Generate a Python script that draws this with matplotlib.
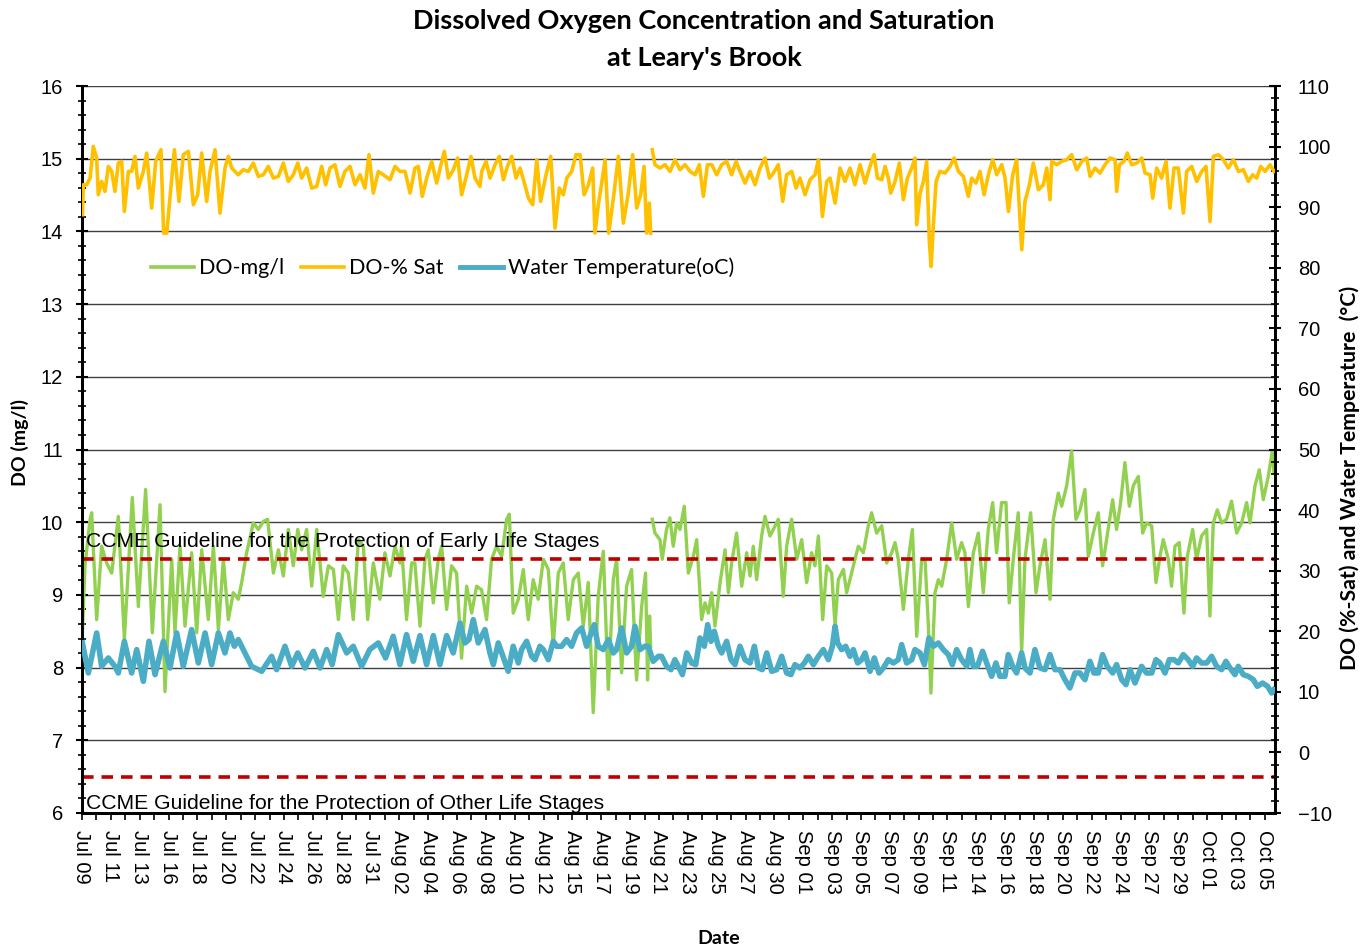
import matplotlib
matplotlib.use('Agg')
import matplotlib.pyplot as plt
from matplotlib.ticker import MultipleLocator, FixedLocator
from matplotlib.lines import Line2D

nan = float('nan')

# ---------------- data (x = days from the Jul 09 axis start) ----------------
do_mg_day = [0.03, 0.22, 0.60, 0.72, 1.09, 1.46, 1.83, 2.21, 2.70, 3.15, 3.74, 4.19, 4.73, 5.23, 5.80, 6.17,
             6.67, 6.91, 7.29, 7.66, 8.15, 8.53, 8.90, 9.39, 9.77, 10.14, 10.51, 10.88, 11.25, 11.62, 11.87,
             12.24, 12.74, 13.11, 13.48, 13.80, 14.23, 14.60, 14.97, 15.34, 15.71, 16.04, 16.33, 16.70, 17.08,
             17.45, 17.94, 18.32, 18.69, 19.06, 19.43, 19.80, 20.17, 20.55, 20.92, 21.24, 21.66,
             22.15, 22.52, 22.90, 23.27, 23.64, 23.76, 24.13, 24.51, 24.75, 25.13, 25.50, 25.75, 26.12, 26.49,
             26.74, 27.11, 27.48, 27.85, 28.22, 28.60, 28.97, 29.34, 29.71, 30.08, 30.45, 30.83, 31.20, 31.57,
             31.77, 32.06, 32.44, 32.81, 33.18, 33.55, 33.92, 34.30, 34.67, 35.04, 35.41, 35.78, 36.15, 36.53,
             36.90, 37.27, 37.64, 38.01, 38.38, 38.76, 39.13, 39.50, 39.75, 40.12, 40.49, 40.86, 41.23, 41.61,
             41.90, 42.05, 42.20, 42.28, 42.34, 42.40, 42.60, 42.97, 43.14, 43.46, 43.71, 43.96, 44.21, 44.46,
             44.78, 45.08, 45.45, 45.70, 46.07, 46.32, 46.57, 46.82, 47.06, 47.44, 47.81, 48.06, 48.30, 48.67,
             49.05, 49.42, 49.67, 49.91, 50.16, 50.53, 50.78, 51.15, 51.40, 51.77, 52.14, 52.39, 52.76, 53.14,
             53.51, 53.88, 54.25, 54.50, 54.75, 55.07, 55.37, 55.74, 55.99, 56.23, 56.61, 56.85, 57.22, 57.47,
             57.72, 58.09, 58.46, 58.71, 59.08, 59.46, 59.83, 60.20, 60.45, 60.69, 61.07, 61.44, 61.74, 62.06,
             62.43, 62.68, 62.93, 63.12, 63.42, 63.67, 63.92, 64.29, 64.66, 65.03, 65.40, 65.65, 65.90, 66.27,
             66.64, 67.01, 67.38, 67.71, 68.00, 68.37, 68.70, 68.94, 69.24, 69.61, 69.86, 70.11, 70.53, 70.93,
             71.22, 71.60, 71.97, 72.22, 72.59, 72.84, 73.21, 73.58, 73.90, 74.20, 74.57, 74.82, 75.19, 75.56,
             75.88, 76.18, 76.63, 76.92, 77.22, 77.54, 77.87, 78.16, 78.54, 78.86, 79.15, 79.53, 79.85, 80.15,
             80.39, 80.77, 81.01, 81.26, 81.58, 81.93, 82.18, 82.58, 82.87, 83.24, 83.62, 83.86, 84.11, 84.41,
             84.73, 85.10, 85.47, 85.85, 86.22, 86.59, 86.84, 87.21, 87.53, 87.83, 88.20, 88.50, 88.62]
do_mg_val = [8.48, 9.40, 10.04, 10.13, 8.66, 9.67, 9.44, 9.30, 10.08, 8.39, 10.34, 8.84, 10.45, 8.48, 10.24, 7.67,
             9.49, 8.48, 9.67, 8.57, 9.58, 8.48, 9.62, 8.66, 9.67, 8.52, 9.49, 8.66, 9.03, 8.94, 9.17,
             9.58, 9.99, 9.90, 10.01, 10.04, 9.30, 9.62, 9.26, 9.90, 9.40, 9.90, 9.62, 9.90, 9.12,
             9.90, 8.98, 9.40, 9.35, 8.66, 9.40, 9.30, 8.66, 9.76, 9.67, 8.66, 9.44,
             8.94, 9.58, 9.26, 9.67, 9.44, 9.67, 8.66, 9.44, 9.44, 8.57, 9.49, 9.62, 8.89, 9.49,
             9.67, 8.80, 9.40, 9.30, 8.13, 9.12, 8.75, 9.12, 9.07, 8.66, 9.49, 9.67, 9.53, 10.04,
             10.11, 8.75, 8.94, 9.35, 8.66, 9.21, 8.94, 9.49, 9.35, 8.29, 9.30, 9.44, 8.66, 9.21,
             9.30, 8.57, 9.17, 7.38, 8.98, 9.60, 7.70, 9.21, 9.49, 7.93, 9.12, 9.35, 7.83, 8.84,
             9.30, 7.83, 8.71, 8.29, nan, 10.04, 9.85, 9.76, 9.49, 9.90, 10.06, 9.67, 9.99, 9.90,
             10.22, 9.30, 9.53, 9.76, 8.66, 8.89, 8.75, 9.03, 8.57, 9.17, 9.62, 9.03, 9.44, 9.85,
             9.12, 9.58, 9.26, 9.67, 9.21, 9.81, 10.08, 9.81, 9.90, 10.04, 8.98, 9.67, 10.04, 9.49,
             9.76, 9.17, 9.58, 9.40, 9.81, 8.66, 9.40, 9.30, 8.57, 9.21, 9.35, 9.03, 9.30, 9.49,
             9.67, 9.58, 9.95, 10.13, 9.85, 9.95, 9.44, 9.58, 9.72, 9.49, 8.80, 9.49, 9.90, 8.43,
             9.49, 9.49, 8.57, 7.65, 9.03, 9.21, 9.12, 9.49, 9.99, 9.49, 9.72, 9.58, 8.84, 9.58,
             9.85, 9.03, 9.90, 10.27, 9.58, 10.27, 10.27, 8.89, 9.49, 10.13, 8.20, 9.49, 10.13, 9.03,
             9.40, 9.76, 8.94, 10.04, 10.40, 10.22, 10.50, 10.98, 10.04, 10.17, 10.45, 9.53, 9.85, 10.13,
             9.40, 9.76, 10.31, 9.90, 10.27, 10.82, 10.22, 10.50, 10.63, 9.85, 9.99, 9.95, 9.17, 9.53,
             9.76, 9.49, 9.12, 9.67, 9.72, 8.75, 9.53, 9.90, 9.49, 9.81, 9.90, 8.71, 9.99, 10.17,
             9.99, 10.04, 10.29, 9.85, 9.99, 10.27, 9.99, 10.50, 10.72, 10.31, 10.63, 10.98, 10.68]

do_sat_day = [0.03, 0.10, 0.35, 0.60, 0.84, 1.09, 1.21, 1.46, 1.71, 1.96, 2.21, 2.45, 2.70, 2.95, 3.15, 3.45,
              3.69, 3.94, 4.19, 4.56, 4.81, 5.18, 5.48, 5.87, 6.07, 6.30, 6.54, 6.87, 7.21, 7.53, 7.91, 8.28,
              8.60, 8.90, 9.27, 9.52, 9.89, 10.26, 10.63, 10.88, 11.13, 11.62, 11.99, 12.37, 12.74, 13.11,
              13.48, 13.85, 14.23, 14.60, 14.97, 15.34, 15.71, 16.04, 16.33, 16.70, 17.08, 17.45, 17.82, 18.12,
              18.44, 18.81, 19.18, 19.55, 19.93, 20.30, 20.67, 21.04, 21.34, 21.66, 22.03, 22.40, 22.90, 23.27,
              23.64, 24.02, 24.39, 24.76, 25.01, 25.30, 25.63, 26.00, 26.37, 26.69, 26.94, 27.24, 27.61, 27.93,
              28.23, 28.60, 28.92, 29.22, 29.59, 29.72, 30.04, 30.34, 30.71, 31.03, 31.33, 31.63, 31.95, 32.27,
              32.57, 32.86, 33.19, 33.51, 33.81, 34.10, 34.50, 34.85, 35.17, 35.49, 35.79, 36.04, 36.41, 36.73,
              37.03, 37.33, 37.65, 37.97, 38.14, 38.39, 38.64, 38.89, 39.16, 39.51, 39.88, 40.25, 40.62, 40.94,
              41.24, 41.54, 41.79, 41.98, 42.18, 42.28, 42.34, 42.40, 42.60, 42.98, 43.35, 43.72, 44.09, 44.46,
              44.84, 45.21, 45.58, 45.90, 46.20, 46.50, 46.82, 47.19, 47.56, 47.93, 48.30, 48.63, 48.92, 49.30,
              49.67, 50.04, 50.41, 50.78, 51.11, 51.40, 51.77, 52.10, 52.39, 52.77, 53.09, 53.38, 53.76, 54.13,
              54.50, 54.75, 55.05, 55.37, 55.62, 55.99, 56.36, 56.73, 57.10, 57.47, 57.85, 58.22, 58.59, 58.89,
              59.14, 59.46, 59.71, 59.95, 60.13, 60.45, 60.77, 61.07, 61.37, 61.69, 61.94, 62.06, 62.31, 62.56,
              62.80, 63.00, 63.13, 63.30, 63.50, 63.79, 64.17, 64.54, 64.84, 65.16, 65.53, 65.90, 66.15, 66.47,
              66.77, 67.07, 67.39, 67.71, 68.01, 68.38, 68.63, 68.88, 69.20, 69.49, 69.87, 70.11, 70.44, 70.73,
              71.11, 71.48, 71.73, 71.97, 72.10, 72.47, 72.84, 73.21, 73.58, 73.96, 74.33, 74.70, 74.95, 75.32,
              75.69, 76.06, 76.43, 76.81, 76.93, 77.13, 77.47, 77.72, 78.04, 78.42, 78.79, 79.04, 79.41, 79.61,
              79.90, 80.27, 80.60, 80.89, 81.19, 81.51, 81.89, 82.13, 82.51, 82.88, 83.25, 83.57, 83.87, 84.12,
              84.49, 84.86, 85.23, 85.60, 85.98, 86.35, 86.72, 87.04, 87.34, 87.64, 87.96, 88.33, 88.63]
do_sat_val = [88.75, 93.70, 93.70, 94.80, 100.03, 98.11, 92.05, 94.25, 92.60, 96.73, 95.90, 92.60, 97.28, 97.56, 89.30, 95.90,
              95.90, 98.38, 93.15, 95.90, 98.93, 89.85, 97.56, 99.48, 85.72, 85.72, 91.50, 99.48, 90.95, 98.66, 99.21, 90.40,
              92.05, 98.93, 90.95, 95.90, 99.48, 89.02, 96.46, 98.38, 96.46, 95.35, 96.18, 95.90, 97.28, 95.08,
              95.35, 96.73, 94.80, 95.08, 97.28, 94.25, 95.35, 97.28, 94.80, 96.46, 93.15, 93.43, 96.73, 93.70,
              96.46, 97.01, 93.43, 95.90, 96.73, 93.70, 95.35, 93.15, 98.66, 92.33, 95.90, 95.35, 94.53, 96.73,
              95.90, 95.90, 92.33, 96.46, 96.73, 91.78, 94.80, 97.56, 93.98, 97.01, 99.21, 94.80, 96.18, 98.11,
              92.05, 95.35, 98.38, 94.80, 93.43, 95.90, 97.56, 94.80, 97.01, 98.38, 94.53, 96.73, 98.38, 94.80,
              96.46, 94.25, 91.50, 90.40, 97.83, 90.95, 95.35, 98.38, 86.55, 93.15, 92.05, 94.80, 95.90, 98.66,
              98.66, 92.05, 93.70, 96.46, 85.72, 90.40, 93.98, 97.83, 85.72, 91.50, 98.38, 87.37, 92.33, 98.66,
              89.85, 92.05, 96.73, 85.72, 90.67, 85.72, nan, 99.48, 97.01, 96.46, 97.01, 95.90, 97.83, 96.18,
              97.01, 95.90, 95.35, 97.01, 91.78, 97.01, 97.01, 95.35, 97.01, 97.56, 95.35, 97.56, 95.90, 93.98,
              95.90, 93.70, 96.46, 98.11, 94.80, 95.62, 97.01, 90.95, 95.35, 95.90, 93.15, 94.80, 92.05, 94.53,
              95.35, 97.83, 88.47, 94.25, 94.80, 90.67, 96.46, 94.25, 96.46, 93.70, 97.01, 93.98, 96.73, 98.66,
              94.80, 94.53, 96.73, 94.80, 92.33, 94.25, 97.28, 91.23, 94.80, 96.46, 98.11, 87.10, 92.33, 94.25,
              97.56, 84.34, 80.21, 87.10, 94.25, 95.90, 95.63, 96.73, 98.11, 95.90, 95.08, 91.78, 94.80, 93.98,
              95.90, 92.05, 95.35, 97.83, 95.35, 97.01, 94.80, 89.30, 95.35, 97.83, 82.97, 90.95, 93.70, 97.28,
              92.88, 93.70, 96.46, 91.23, 97.56, 97.01, 97.56, 97.83, 98.66, 96.18, 97.56, 98.11, 95.08, 96.46,
              95.63, 97.01, 98.11, 97.83, 92.60, 97.01, 97.56, 98.93, 97.01, 97.28, 98.11, 95.63, 95.35, 91.50,
              96.46, 94.80, 97.56, 89.85, 96.46, 96.46, 89.02, 95.90, 96.73, 94.25, 95.90, 96.73, 87.65, 98.38,
              98.66, 97.83, 96.46, 97.83, 95.90, 96.18, 94.25, 95.35, 94.80, 96.73, 95.90, 97.01, 95.90]

temp_day = [0.03, 0.47, 1.09, 1.46, 1.96, 2.45, 2.70, 3.15, 3.69, 4.07, 4.56, 4.98, 5.43, 6.05, 6.54, 7.04,
            7.53, 8.15, 8.65, 9.15, 9.64, 10.14, 10.63, 11.00, 11.33, 11.62, 11.99, 12.61, 13.36, 14.10, 14.47,
            15.09, 15.59, 16.04, 16.58, 17.20, 17.70, 18.19, 18.60, 19.06, 19.68, 20.17, 20.79, 21.40, 22.03,
            22.57, 23.14, 23.64, 24.13, 24.63, 25.13, 25.62, 26.12, 26.61, 27.11, 27.60, 28.10, 28.47, 28.77,
            29.09, 29.46, 29.96, 30.33, 30.58, 30.95, 31.69, 32.06, 32.44, 32.68, 33.06, 33.43, 33.68, 34.05,
            34.30, 34.67, 35.04, 35.29, 35.66, 36.03, 36.40, 36.77, 37.15, 37.52, 37.77, 38.09, 38.38, 38.76,
            39.13, 39.50, 39.75, 40.12, 40.49, 40.86, 41.11, 41.48, 41.85, 42.10, 42.47, 42.85, 43.09, 43.46,
            43.79, 44.08, 44.34, 44.64, 44.96, 45.33, 45.63, 45.95, 46.27, 46.52, 46.77, 47.01, 47.31, 47.56,
            47.93, 48.25, 48.55, 48.92, 49.29, 49.67, 49.99, 50.29, 50.58, 50.91, 51.28, 51.65, 52.02, 52.39,
            52.71, 53.01, 53.38, 53.71, 54.00, 54.38, 54.75, 55.12, 55.49, 55.79, 55.99, 56.18, 56.48, 56.78,
            57.10, 57.35, 57.67, 57.97, 58.22, 58.59, 58.91, 59.26, 59.58, 59.95, 60.32, 60.69, 60.94, 61.31,
            61.69, 61.93, 62.31, 62.63, 62.97, 63.30, 63.67, 64.04, 64.41, 64.71, 65.03, 65.40, 65.78, 66.02,
            66.27, 66.57, 66.96, 67.26, 67.63, 67.95, 68.25, 68.62, 68.87, 69.19, 69.49, 69.86, 70.11, 70.48,
            70.85, 71.22, 71.60, 71.97, 72.34, 72.71, 73.08, 73.45, 73.83, 74.20, 74.57, 74.94, 75.24, 75.56,
            75.88, 76.23, 76.63, 76.92, 77.30, 77.62, 77.92, 78.29, 78.78, 79.15, 79.53, 79.85, 80.15, 80.52,
            80.84, 81.19, 81.51, 81.88, 82.25, 82.58, 82.87, 83.24, 83.62, 83.99, 84.36, 84.73, 85.05, 85.35,
            85.72, 85.97, 86.34, 86.71, 87.09, 87.38, 87.78, 88.15, 88.45, 88.62]
temp_val = [18.07, 13.11, 19.72, 14.21, 15.59, 14.21, 13.11, 18.34, 13.11, 16.97, 11.73, 18.34, 12.84, 18.34, 13.94, 19.72,
            14.21, 20.27, 14.76, 19.72, 14.49, 19.72, 16.42, 19.72, 17.52, 18.62, 16.97, 14.21, 13.39, 15.86, 13.66,
            17.52, 14.21, 16.42, 13.94, 16.69, 13.94, 16.97, 14.50, 19.44, 16.42, 17.52, 14.21, 17.00, 18.07,
            15.59, 19.17, 14.49, 19.44, 15.04, 19.28, 14.49, 19.28, 14.49, 19.28, 16.42, 21.37, 18.07, 18.62,
            21.92, 18.07, 20.27, 16.42, 14.49, 18.07, 13.39, 17.52, 14.76, 16.97, 18.34, 15.86, 15.31, 17.52,
            16.97, 15.31, 18.34, 17.52, 17.52, 18.62, 17.52, 19.72, 20.54, 17.52, 19.17, 21.09, 17.52, 16.97,
            18.62, 16.42, 16.97, 20.54, 16.42, 17.52, 20.82, 16.97, 17.52, 17.52, 15.04, 15.86, 15.86, 14.21,
            13.66, 15.31, 14.21, 12.84, 16.42, 14.76, 14.49, 18.89, 17.52, 21.09, 18.34, 20.00, 17.52, 16.42,
            18.34, 15.31, 14.49, 17.52, 15.31, 14.76, 17.52, 13.94, 13.66, 16.42, 13.39, 13.66, 15.86, 13.11,
            12.84, 14.49, 13.94, 14.76, 15.86, 14.49, 15.86, 16.97, 15.31, 17.52, 20.82, 18.07, 16.97, 17.52,
            15.86, 16.97, 14.76, 15.31, 16.42, 13.39, 15.59, 13.11, 13.94, 15.31, 14.76, 15.31, 17.79, 14.76,
            15.31, 16.97, 16.42, 14.49, 18.89, 17.52, 18.07, 16.97, 16.15, 14.49, 16.97, 15.31, 14.21, 16.97,
            14.21, 14.21, 16.69, 14.76, 12.56, 14.76, 12.56, 12.56, 16.14, 14.21, 13.11, 16.42, 13.94, 13.11,
            16.97, 13.94, 13.66, 16.14, 13.66, 13.66, 12.01, 10.64, 13.11, 13.11, 12.01, 15.04, 13.11, 13.11,
            16.14, 14.21, 13.11, 14.49, 12.01, 11.19, 13.66, 11.46, 14.21, 13.11, 13.11, 15.31, 14.76, 13.11,
            15.31, 15.31, 14.76, 16.14, 15.31, 14.21, 15.59, 14.76, 14.76, 15.86, 14.21, 13.66, 15.04, 13.94,
            12.84, 14.21, 12.84, 12.56, 12.01, 10.91, 11.46, 10.91, 9.81, 10.36]

date_labels = ['Jul 09', 'Jul 11', 'Jul 13', 'Jul 16', 'Jul 18', 'Jul 20', 'Jul 22', 'Jul 24', 'Jul 26',
               'Jul 28', 'Jul 31', 'Aug 02', 'Aug 04', 'Aug 06', 'Aug 08', 'Aug 10', 'Aug 12', 'Aug 15',
               'Aug 17', 'Aug 19', 'Aug 21', 'Aug 23', 'Aug 25', 'Aug 27', 'Aug 30', 'Sep 01', 'Sep 03',
               'Sep 05', 'Sep 07', 'Sep 09', 'Sep 11', 'Sep 14', 'Sep 16', 'Sep 18', 'Sep 20', 'Sep 22',
               'Sep 24', 'Sep 27', 'Sep 29', 'Oct 01', 'Oct 03', 'Oct 05']
guideline_early = 9.5
guideline_other = 6.5

# ---------------- styling ----------------
GREEN = '#92D050'
YELLOW = '#FFC000'
BLUE = '#4BACC6'
RED = '#C00000'
TICK_FONT = 'Liberation Sans'
LABEL_FONT = 'Lato'

fig = plt.figure(figsize=(13.72, 9.5), dpi=100)
ax = fig.add_axes([82 / 1372, 1 - 813 / 950, (1275 - 82) / 1372, (813 - 86) / 950])
ax2 = ax.twinx()

label_step = 2.145
ax.set_xlim(0, 88.7)
ax.set_ylim(6, 16)
ax2.set_ylim(-10, 110)

# gridlines
ax.yaxis.set_major_locator(MultipleLocator(1))
ax.yaxis.set_minor_locator(MultipleLocator(0.2))
ax.grid(axis='y', which='major', color='#404040', linewidth=1.0)
ax.set_axisbelow(True)

ax.plot(do_mg_day, do_mg_val, color=GREEN, lw=2.4, zorder=3, solid_joinstyle='round')
ax.axhline(guideline_early, color=RED, lw=2.6, ls=(0, (3.2, 2.2)), zorder=4)
ax.axhline(guideline_other, color=RED, lw=2.6, ls=(0, (3.2, 2.2)), zorder=4)
ax.text(0.0035, 0.374, 'CCME Guideline for the Protection of Early Life Stages', transform=ax.transAxes,
        fontsize=15.2, family=TICK_FONT, va='center', ha='left', zorder=5)
ax.text(0.0035, 0.0135, 'CCME Guideline for the Protection of Other Life Stages', transform=ax.transAxes,
        fontsize=15.2, family=TICK_FONT, va='center', ha='left', zorder=5)

ax2.plot(do_sat_day, do_sat_val, color=YELLOW, lw=2.6, zorder=3, solid_joinstyle='round')
ax2.plot(temp_day, temp_val, color=BLUE, lw=4.0, zorder=4, solid_joinstyle='round')

# x ticks
positions = [i * label_step for i in range(len(date_labels))]
ax.xaxis.set_major_locator(FixedLocator(positions))
ax.set_xticklabels(date_labels, rotation=270, fontsize=14.5, family=TICK_FONT)
minor = [i * label_step / 2 for i in range(2 * len(date_labels) + 1)]
ax.xaxis.set_minor_locator(FixedLocator(minor))
ax.tick_params(axis='x', which='both', direction='out', length=5, width=1.2, pad=7)

# y ticks
ax.tick_params(axis='y', which='major', direction='inout', length=9, width=1.5, labelsize=14.5, pad=9)
ax.tick_params(axis='y', which='minor', direction='inout', length=6, width=1.2)
for lab in ax.get_yticklabels():
    lab.set_family(TICK_FONT)
ax2.yaxis.set_major_locator(MultipleLocator(10))
ax2.yaxis.set_minor_locator(MultipleLocator(2))
ax2.tick_params(axis='y', which='major', direction='inout', length=9, width=1.5, labelsize=14.5, pad=12)
ax2.tick_params(axis='y', which='minor', direction='inout', length=6, width=1.2)
for lab in ax2.get_yticklabels():
    lab.set_family(TICK_FONT)

for a in (ax, ax2):
    a.spines['top'].set_visible(False)
    for s in ('left', 'right', 'bottom'):
        a.spines[s].set_linewidth(2.0)
        a.spines[s].set_color('black')

# legend
handles = [Line2D([], [], color=GREEN, lw=2.6), Line2D([], [], color=YELLOW, lw=2.6),
           Line2D([], [], color=BLUE, lw=3.5)]
ax2.legend(handles, ['DO-mg/l', 'DO-% Sat', 'Water Temperature(oC)'], loc='center left',
           bbox_to_anchor=((151 - 82) / 1193, 1 - (268 - 86) / 727), ncol=3, frameon=False,
           handlelength=2.0, handletextpad=0.25, columnspacing=0.75, borderpad=0, borderaxespad=0,
           prop={'family': LABEL_FONT, 'size': 15.5})

# titles / labels
fig.text(704 / 1372, 1 - 21 / 950, 'Dissolved Oxygen Concentration and Saturation', ha='center', va='center',
         fontsize=19.5, fontweight='bold', family=LABEL_FONT)
fig.text(704 / 1372, 1 - 58 / 950, "at Leary's Brook", ha='center', va='center',
         fontsize=19.5, fontweight='bold', family=LABEL_FONT)
fig.text(20 / 1372, 1 - 442 / 950, 'DO (mg/l)', rotation=90, ha='center', va='center',
         fontsize=14, fontweight='bold', family=LABEL_FONT)
fig.text(1350 / 1372, 1 - 478 / 950, 'DO (%-Sat) and Water Temperature  (°C)', rotation=90, ha='center',
         va='center', fontsize=15.3, fontweight='bold', family=LABEL_FONT)
fig.text(719 / 1372, 1 - 938 / 950, 'Date', ha='center', va='center',
         fontsize=14, fontweight='bold', family=LABEL_FONT)

fig.savefig('out.png', dpi=100)
